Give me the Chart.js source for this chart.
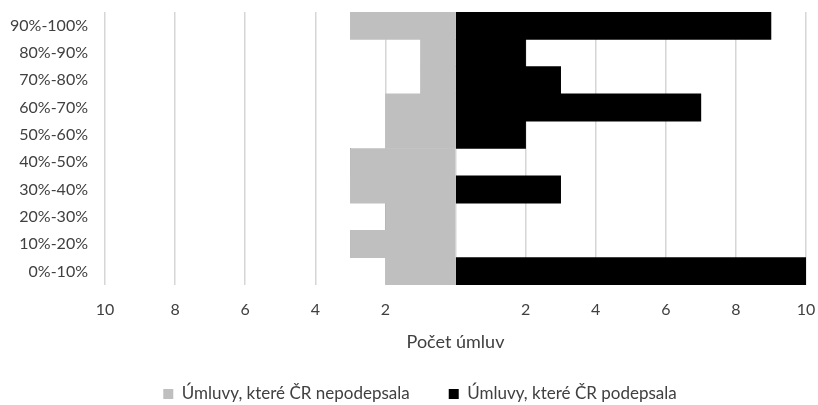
<!DOCTYPE html>
<html>
<head>
<meta charset="utf-8">
<script src="https://cdn.jsdelivr.net/npm/chart.js@4"></script>
<style>
  html, body { margin: 0; padding: 0; background: #ffffff; }
  #wrap { width: 818px; height: 405px; }
</style>
</head>
<body>
<div id="wrap"><canvas id="c" width="818" height="405"></canvas></div>
<script>
// Ratings bands, top to bottom
const categories = ['90%-100%', '80%-90%', '70%-80%', '60%-70%', '50%-60%',
                    '40%-50%', '30%-40%', '20%-30%', '10%-20%', '0%-10%'];
// Conventions not signed (drawn to the left as negative values)
const notSigned = [3, 1, 1, 2, 2, 3, 3, 2, 3, 2];
// Conventions signed (drawn to the right)
const signed = [9, 2, 3, 7, 2, 0, 3, 0, 0, 10];
const tickValues = [-10, -8, -6, -4, -2, 0, 2, 4, 6, 8, 10];

const FONT = 'Lato, "Open Sans", sans-serif';
const TEXT = '#404040';
const CLEAR = 'rgba(0,0,0,0)';

// Nudges the legend row sideways after layout
const legendShift = {
  id: 'legendShift',
  afterLayout(chart) {
    const lg = chart.legend;
    if (lg) { lg.left += 17; lg.right += 17; }
  }
};

new Chart(document.getElementById('c'), {
  type: 'bar',
  data: {
    labels: categories,
    datasets: [
      {
        label: 'Úmluvy, které ČR nepodepsala',
        data: notSigned.map(v => -v),
        backgroundColor: '#bfbfbf',
        borderWidth: 0,
        barPercentage: 1,
        categoryPercentage: 1
      },
      {
        label: 'Úmluvy, které ČR podepsala',
        data: signed,
        backgroundColor: '#000000',
        borderWidth: 0,
        barPercentage: 1,
        categoryPercentage: 1
      }
    ]
  },
  plugins: [legendShift],
  options: {
    indexAxis: 'y',
    responsive: false,
    animation: false,
    layout: { padding: { left: 0, right: 12, top: 12, bottom: -7.5 } },
    scales: {
      x: {
        stacked: true,
        min: -10,
        max: 10,
        border: { display: false },
        grid: { color: '#d6d6d6', lineWidth: 1.5, drawTicks: true, tickLength: 15, tickColor: CLEAR },
        afterBuildTicks: scale => { scale.ticks = tickValues.map(v => ({ value: v })); },
        ticks: {
          padding: 0,
          color: TEXT,
          font: { family: FONT, size: 16 },
          maxRotation: 0,
          callback: v => (v === 0 ? '' : String(Math.abs(v)))
        },
        title: {
          display: true,
          text: 'Počet úmluv',
          color: TEXT,
          font: { family: FONT, size: 18 },
          padding: { top: 12, bottom: -6.3 }
        }
      },
      y: {
        stacked: true,
        border: { display: false },
        grid: { display: true, drawOnChartArea: false, color: CLEAR, drawTicks: true, tickLength: 17, tickColor: CLEAR },
        ticks: {
          padding: 0,
          color: TEXT,
          font: { family: FONT, size: 16 }
        },
        afterFit: scale => { scale.width = 105; }
      }
    },
    plugins: {
      tooltip: { enabled: false },
      legend: {
        position: 'bottom',
        labels: {
          color: TEXT,
          font: { family: FONT, size: 17 },
          boxWidth: 10,
          boxHeight: 10,
          padding: 39
        }
      }
    }
  }
});
</script>
</body>
</html>
